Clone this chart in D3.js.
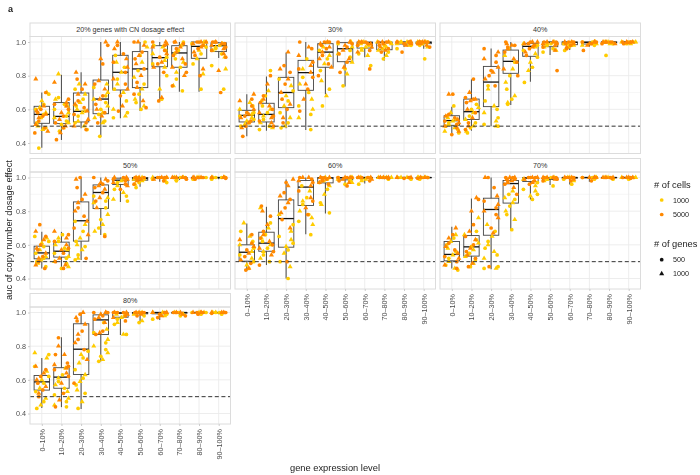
<!DOCTYPE html>
<html>
<head>
<meta charset="utf-8">
<script src="https://cdn.jsdelivr.net/npm/d3@7"></script>
<style>
html, body { margin: 0; padding: 0; background: #fff; }
svg { display: block; filter: blur(0.35px); font-family: "Liberation Sans", Arial, sans-serif; }
</style>
</head>
<body>
<svg id="chart" width="700" height="475"></svg>
<script>
var categories = ["0–10%", "10–20%", "20–30%", "30–40%", "40–50%", "50–60%", "60–70%", "70–80%", "80–90%", "90–100%"];
var panelTitles = ["20% genes with CN dosage effect", "30%", "40%", "50%", "60%", "70%", "80%"];
var yTicks = [0.4, 0.6, 0.8, 1.0];
var yMinor = [0.5, 0.7, 0.9];

// lower whisker, q1, median, q3, upper whisker
var boxes20 = [[.372,.517,.57,.618,.70],[.418,.515,.558,.64,.805],[.487,.525,.588,.697,.82],[.438,.574,.661,.774,1],[.547,.715,.82,.921,1],[.59,.729,.84,.943,1],[.655,.853,.907,.978,1],[.705,.85,.935,.978,1],[.705,.903,.974,1,1],[.905,.943,.978,.995,1]];
var boxes30 = [[.44,.525,.564,.594,.69],[.473,.525,.57,.636,.795],[.487,.61,.70,.79,.937],[.477,.713,.818,.891,1],[.69,.85,.94,.99,1],[.735,.883,.96,.996,1],[.91,.964,.996,1,1],[.89,.954,.997,1,1],[.97,.988,.998,1,1],[.96,.99,.998,1,1]];
var boxes40 = [[.457,.505,.533,.562,.615],[.473,.54,.586,.661,.778],[.50,.616,.762,.855,.962],[.626,.814,.885,.952,1],[.764,.915,.974,.992,1],[.923,.972,.998,1,1],[.953,.984,.998,1,1],[.972,.988,.998,1,1],[.988,.995,.999,1,1],[.992,.996,.999,1,1]];
var boxes50 = [[.46,.517,.552,.592,.677],[.46,.527,.562,.616,.677],[.51,.622,.743,.855,1],[.658,.816,.911,.956,1],[.855,.958,.984,.996,1],[.945,.984,.994,1,1],[.975,.996,1,1,1],[.985,.997,1,1,1],[.99,.998,1,1,1],[.99,.998,1,1,1]];
var boxes60 = [[.445,.503,.556,.60,.727],[.48,.562,.61,.675,.826],[.40,.586,.756,.867,.988],[.663,.834,.943,.982,1],[.786,.968,.996,1,1],[.948,.986,.998,1,1],[.964,.994,1,1,1],[.99,.998,1,1,1],[.992,.998,1,1,1],[.992,.998,1,1,1]];
var boxes70 = [[.46,.505,.543,.62,.707],[.47,.533,.588,.655,.875],[.455,.657,.81,.877,1],[.687,.848,.964,.982,1],[.87,.976,.996,1,1],[.955,.988,.998,1,1],[.958,.996,1,1,1],[.975,.998,1,1,1],[.992,.998,1,1,1],[.992,.998,1,1,1]];
var boxes80 = [[.432,.539,.588,.626,.73],[.438,.55,.616,.672,.853],[.426,.632,.782,.933,1],[.709,.869,.956,.986,1],[.867,.972,.996,1,1],[.937,.992,.998,1,1],[.956,.992,1,1,1],[.98,.996,1,1,1],[.99,.998,1,1,1],[.99,.998,1,1,1]];

// auc values per expression bin, one list per bin
var yellow20 = [
  [.37,.48,.49,.50,.52,.55,.57,.58,.60,.61,.63,.65,.69,.70],
  [.47,.49,.51,.52,.53,.55,.56,.58,.60,.62,.63,.66,.67,.81],
  [.48,.50,.52,.53,.56,.58,.59,.60,.62,.64,.66,.69,.72,.75],
  [.44,.52,.53,.55,.57,.58,.60,.62,.64,.66,.68,.70,.73,.75],
  [.55,.56,.58,.60,.65,.70,.72,.75,.78,.82,.85,.88,.92],
  [.60,.62,.64,.66,.69,.72,.75,.79,.83,.88,.92,.97,1],
  [.66,.72,.80,.85,.87,.89,.91,.93,.95,.97,.98],
  [.71,.74,.78,.82,.85,.88,.90,.93,.95,.98,1],
  [.72,.81,.87,.90,.93,.95,.97,.98,.99,1,1],
  [.72,.84,.86,.91,.93,.95,.96,.97,.98,.99,1]
];
var orange20 = [
  [.46,.47,.49,.51,.53,.55,.56,.57,.58,.59,.60,.62,.70,.78],
  [.42,.46,.49,.50,.52,.54,.56,.58,.60,.62,.63,.64,.66,.76],
  [.48,.50,.52,.54,.57,.59,.61,.63,.65,.69,.72,.75,.78,.82],
  [.52,.56,.58,.60,.63,.66,.68,.72,.75,.77,.87,.90,.98,1],
  [.59,.62,.68,.72,.75,.78,.82,.85,.88,.90,.93,.96,.98,1],
  [.61,.65,.69,.73,.76,.80,.84,.87,.90,.92,.94,.98,1,1],
  [.65,.67,.82,.85,.87,.88,.91,.93,.95,.97,.98,.99,1,1],
  [.74,.80,.82,.85,.87,.90,.92,.94,.96,.97,.99,1,1],
  [.80,.84,.92,.94,.96,.97,.98,.99,1,1,1,1],
  [.70,.83,.91,.93,.95,.96,.97,.98,.99,.99,1,1,1]
];
var yellow30 = [
  [.50,.51,.52,.53,.54,.55,.56,.57,.58,.60,.62,.64],
  [.48,.49,.50,.52,.54,.56,.58,.60,.62,.65,.68,.71,.83],
  [.49,.50,.52,.55,.58,.62,.65,.68,.71,.74,.78],
  [.48,.55,.57,.60,.62,.66,.70,.75,.79,.84,.90],
  [.62,.68,.72,.77,.83,.87,.90,.92,.95,.97,1],
  [.74,.81,.84,.88,.91,.93,.95,.97,.99,1],
  [.86,.92,.93,.95,.96,.97,.98,.99,1,1],
  [.90,.92,.94,.95,.96,.97,.98,.99,1,1],
  [.96,.98,.98,.99,.99,1,1,1,1],
  [.90,.97,.98,.99,.99,1,1,1,1]
];
var orange30 = [
  [.44,.49,.50,.52,.53,.55,.56,.57,.58,.60,.62,.65,.66,.69],
  [.50,.52,.53,.55,.56,.58,.60,.62,.64,.66,.68,.75,.80],
  [.52,.55,.60,.63,.66,.70,.75,.78,.82,.84,.86,.94],
  [.59,.66,.72,.75,.79,.82,.84,.86,.88,.92,.96,.97,1],
  [.80,.85,.87,.90,.92,.94,.96,.97,.98,.99,1,1,1],
  [.82,.85,.88,.90,.93,.95,.97,.98,.99,1,1,1],
  [.84,.94,.95,.97,.98,.99,.99,1,1,1,1],
  [.94,.95,.96,.97,.98,.99,1,1,1,1],
  [.94,.98,.99,.99,1,1,1,1,1,1],
  [.97,.98,.99,.99,1,1,1,1,1,1]
];
var yellow40 = [
  [.46,.47,.48,.49,.50,.51,.52,.53,.54,.55,.56,.58,.62],
  [.46,.47,.49,.50,.52,.54,.56,.58,.60,.61,.63],
  [.50,.50,.51,.53,.55,.58,.60,.62,.65,.72,.74],
  [.63,.64,.66,.68,.72,.76,.80,.84,.88,.92,.96],
  [.76,.83,.85,.88,.91,.93,.95,.97,.98,.99],
  [.94,.95,.96,.97,.98,.99,.99,1],
  [.95,.97,.98,.98,.99,.99,1],
  [.98,.98,.99,.99,1,1,1],
  [.92,.99,.99,1,1,1],
  [.99,.99,1,1,1,1]
];
var orange40 = [
  [.45,.47,.49,.50,.51,.52,.53,.54,.55,.56,.57,.69,.69],
  [.48,.50,.52,.55,.58,.60,.64,.65,.66,.66,.67,.70,.78],
  [.74,.78,.80,.82,.83,.85,.88,.90,.92,.94,.96],
  [.80,.84,.88,.90,.94,.96,.97,.98,.98,.99,1],
  [.92,.94,.96,.97,.98,.99,.99,1,1,1],
  [.83,.95,.97,.98,.99,.99,1,1,1,1],
  [.96,.97,.98,.99,.99,1,1,1,1],
  [.95,.98,.99,.99,1,1,1,1],
  [.99,.99,1,1,1,1,1],
  [.99,.995,1,1,1,1,1]
];
var yellow50 = [
  [.47,.49,.50,.51,.52,.53,.55,.57,.59,.61,.62,.64,.65],
  [.46,.47,.49,.50,.52,.53,.55,.57,.58,.60,.62,.64,.66],
  [.51,.52,.54,.57,.59,.60,.62,.64,.68,.72,.74],
  [.66,.68,.70,.72,.75,.78,.82,.85,.86,.88,.89],
  [.86,.87,.89,.91,.93,.95,.97,.98,.99],
  [.94,.96,.97,.98,.99,.99,1,1],
  [.97,.98,.99,.99,1,1,1],
  [.98,.99,1,1,1,1],
  [.99,1,1,1,1],
  [.99,1,1,1,1]
];
var orange50 = [
  [.46,.48,.50,.52,.53,.55,.57,.58,.60,.63,.65,.68,.72],
  [.46,.48,.50,.52,.55,.57,.58,.60,.62,.64,.66,.68],
  [.52,.66,.70,.74,.77,.80,.82,.85,.87,.90,.94,.99,1],
  [.65,.82,.86,.88,.91,.93,.94,.95,.96,.97,.98,.99,1],
  [.93,.95,.96,.97,.98,.99,.99,1,1,1],
  [.96,.98,.99,.99,1,1,1,1],
  [.98,.99,1,1,1,1,1],
  [.99,1,1,1,1,1],
  [.99,1,1,1,1,1],
  [.995,1,1,1,1,1]
];
var yellow60 = [
  [.46,.48,.50,.52,.54,.56,.58,.60,.62,.65,.68,.73],
  [.50,.52,.54,.56,.58,.60,.62,.64,.66,.70,.73,.82],
  [.40,.47,.50,.55,.57,.59,.61,.63,.65,.68,.72,.78],
  [.66,.72,.74,.76,.78,.80,.84,.86,.88,.92,.95],
  [.79,.84,.85,.90,.93,.95,.97,.98,.99,1],
  [.96,.97,.98,.99,.99,1,1,1],
  [.96,.98,.99,.99,1,1,1],
  [.99,1,1,1,1,1],
  [.99,1,1,1,1,1],
  [.99,1,1,1,1,1]
];
var orange60 = [
  [.45,.46,.49,.51,.53,.55,.57,.59,.61,.63,.66],
  [.48,.54,.56,.58,.60,.62,.64,.66,.68,.72,.77,.80,.83],
  [.50,.70,.75,.79,.82,.85,.87,.89,.91,.95,.97,.99],
  [.78,.82,.86,.88,.92,.95,.97,.98,.99,1,1,1],
  [.96,.97,.98,.99,.99,1,1,1,1],
  [.95,.97,.98,.99,1,1,1,1,1],
  [.98,.99,1,1,1,1,1],
  [.995,1,1,1,1,1],
  [.995,1,1,1,1],
  [.995,1,1,1,1]
];
var yellow70 = [
  [.45,.46,.48,.50,.52,.54,.56,.58,.60,.62,.64,.66],
  [.47,.49,.51,.53,.55,.57,.59,.61,.63,.66,.68,.76],
  [.46,.46,.47,.52,.54,.56,.58,.60,.62,.65,.68,.72],
  [.69,.75,.78,.80,.83,.85,.87,.88,.90,.92],
  [.87,.89,.90,.92,.93,.95,.97,.99],
  [.95,.98,.99,.99,1,1,1],
  [.96,.98,.99,1,1,1],
  [.99,1,1,1,1],
  [.99,1,1,1,1],
  [.99,1,1,1,1]
];
var orange70 = [
  [.46,.48,.50,.52,.53,.55,.57,.59,.61,.64,.66,.70],
  [.47,.49,.52,.54,.56,.58,.60,.63,.65,.68,.72,.80,.87,.88],
  [.47,.67,.70,.76,.78,.80,.82,.84,.86,.89,.94,1,1],
  [.90,.94,.96,.97,.98,.98,.99,.99,1,1,1,1],
  [.96,.97,.98,.99,1,1,1,1,1],
  [.98,.99,.99,1,1,1,1,1],
  [.98,.99,1,1,1,1,1],
  [.98,1,1,1,1,1],
  [.995,1,1,1,1,1],
  [.995,1,1,1,1,1]
];
var yellow80 = [
  [.43,.45,.47,.49,.53,.55,.58,.60,.62,.65,.68,.73,.75,.76],
  [.44,.45,.47,.49,.51,.53,.55,.57,.59,.61,.63,.67],
  [.43,.47,.52,.54,.57,.59,.61,.63,.66,.70,.73,.75,.77],
  [.71,.72,.74,.76,.78,.80,.82,.84,.88,.90,.94],
  [.87,.87,.93,.94,.96,.97,.98,.99,1],
  [.94,.95,.98,.99,1,1,1],
  [.96,.98,.99,1,1,1],
  [.98,.99,1,1,1],
  [.99,1,1,1,1],
  [.99,1,1,1,1]
];
var orange80 = [
  [.50,.52,.54,.56,.58,.60,.62,.64,.66,.68],
  [.44,.48,.52,.58,.62,.64,.66,.67,.68,.69,.70,.75,.75,.80,.85],
  [.58,.72,.78,.82,.84,.87,.89,.93,.95,.97,.99,1],
  [.87,.88,.89,.94,.96,.97,.98,.99,1,1,1,1],
  [.95,.97,.98,.99,1,1,1,1,1],
  [.98,.99,1,1,1,1,1],
  [.97,.98,.99,1,1,1,1],
  [.98,.99,1,1,1,1],
  [.99,1,1,1,1,1],
  [.995,1,1,1,1,1]
];

var panelBoxes = [boxes20, boxes30, boxes40, boxes50, boxes60, boxes70, boxes80];
var panelYellow = [yellow20, yellow30, yellow40, yellow50, yellow60, yellow70, yellow80];
var panelOrange = [orange20, orange30, orange40, orange50, orange60, orange70, orange80];

// horizontal spread of the points, in px, cycled through per bin
var jitterPx = [-3, 5, -6, 1, 7, -2, 4, -7, 2, -4, 6, 0, -5, 3, 7, -1, -6, 5, 2, -3, -7, 4];

var cellColors = { 1000: "#ffcc00", 5000: "#ff8800" };

var svg = d3.select("#chart");
var panelWidth = 200.5;
var columnX = [30, 235, 440];
var rowY = [36.5, 172, 307];
var panelHeight = 117;
var stripHeight = 13.5;

var xScale = d3.scalePoint().domain(categories).range([11.8, panelWidth - 11.8]);
var yScale = d3.scaleLinear().domain([0.4, 1]).range([106.5, 5.5]);

var triangle = d3.symbol().type(d3.symbolTriangle).size(11)();
var circle = d3.symbol().type(d3.symbolCircle).size(11)();

function drawPoints(group, lists, cells, salt) {
    lists.forEach(function (values, c) {
        values.forEach(function (v, i) {
            var isTriangle = i % 2 === 1;
            var dx = jitterPx[(i * 3 + c * 5 + salt) % jitterPx.length];
            group.append("path")
                .attr("d", isTriangle ? triangle : circle)
                .attr("fill", cellColors[cells])
                .attr("transform", "translate(" + (xScale(categories[c]) + dx) + "," + yScale(v) + ")");
        });
    });
}

panelTitles.forEach(function (title, p) {
    var col = p % 3;
    var row = Math.floor(p / 3);
    var g = svg.append("g")
        .attr("transform", "translate(" + columnX[col] + "," + rowY[row] + ")");

    g.append("rect")
        .attr("y", -stripHeight)
        .attr("width", panelWidth)
        .attr("height", stripHeight)
        .attr("fill", "#fff")
        .attr("stroke", "#dcdcdc");
    g.append("text")
        .attr("x", panelWidth / 2)
        .attr("y", -4.3)
        .attr("text-anchor", "middle")
        .attr("font-size", 7.2)
        .attr("fill", "#333")
        .text(title);

    g.append("g").selectAll("line").data(yMinor).enter().append("line")
        .attr("x2", panelWidth)
        .attr("y1", yScale).attr("y2", yScale)
        .attr("stroke", "#f2f2f2").attr("stroke-width", 0.6);
    g.append("g").selectAll("line").data(yTicks).enter().append("line")
        .attr("x2", panelWidth)
        .attr("y1", yScale).attr("y2", yScale)
        .attr("stroke", "#ebebeb").attr("stroke-width", 0.9);
    g.append("g").selectAll("line").data(categories).enter().append("line")
        .attr("x1", xScale).attr("x2", xScale)
        .attr("y2", panelHeight)
        .attr("stroke", "#ebebeb").attr("stroke-width", 0.9);

    // boxes
    var boxWidth = 15.4;
    panelBoxes[p].forEach(function (b, c) {
        var cx = xScale(categories[c]);
        var box = g.append("g");
        box.append("line").attr("x1", cx).attr("x2", cx).attr("y1", yScale(b[0])).attr("y2", yScale(b[1]))
            .attr("stroke", "#555").attr("stroke-width", 1.1);
        box.append("line").attr("x1", cx).attr("x2", cx).attr("y1", yScale(b[3])).attr("y2", yScale(b[4]))
            .attr("stroke", "#555").attr("stroke-width", 1.1);
        box.append("rect")
            .attr("x", cx - boxWidth / 2).attr("width", boxWidth)
            .attr("y", yScale(b[3])).attr("height", yScale(b[1]) - yScale(b[3]))
            .attr("fill", "none").attr("stroke", "#444").attr("stroke-width", 0.9);
        box.append("line").attr("x1", cx - boxWidth / 2).attr("x2", cx + boxWidth / 2)
            .attr("y1", yScale(b[2])).attr("y2", yScale(b[2]))
            .attr("stroke", "#111").attr("stroke-width", 1.3);
    });

    var points = g.append("g");
    drawPoints(points, panelYellow[p], 1000, p * 2);
    drawPoints(points, panelOrange[p], 5000, p * 2 + 7);

    g.append("line")
        .attr("x2", panelWidth)
        .attr("y1", yScale(0.5)).attr("y2", yScale(0.5))
        .attr("stroke", "#333").attr("stroke-width", 1)
        .attr("stroke-dasharray", "4,2.6");

    g.append("rect")
        .attr("width", panelWidth)
        .attr("height", panelHeight)
        .attr("fill", "none")
        .attr("stroke", "#dcdcdc");

    if (col === 0) {
        var yAxis = g.append("g").call(d3.axisLeft(yScale).tickValues(yTicks).tickFormat(d3.format(".1f")).tickSize(2).tickPadding(2));
        yAxis.select(".domain").remove();
        yAxis.selectAll("line").attr("stroke", "#ccc");
        yAxis.selectAll("text").attr("font-size", 7.2).attr("font-family", "Liberation Sans").attr("fill", "#4d4d4d");
    }
    // x labels only where no panel sits below
    if (p + 3 >= panelTitles.length) {
        var xAxis = g.append("g")
            .attr("transform", "translate(0," + panelHeight + ")")
            .call(d3.axisBottom(xScale).tickSize(2).tickPadding(3));
        xAxis.select(".domain").remove();
        xAxis.selectAll("line").attr("stroke", "#ccc");
        xAxis.selectAll("text")
            .attr("font-size", 7.2)
            .attr("font-family", "Liberation Sans")
            .attr("fill", "#4d4d4d")
            .attr("text-anchor", "end")
            .attr("dy", "0.32em")
            .attr("y", 0)
            .attr("transform", "translate(0,5) rotate(-90)");
    }
});

svg.append("text").attr("x", 8).attr("y", 12)
    .attr("font-size", 9).attr("font-weight", "bold").attr("fill", "#222").text("a");
svg.append("text")
    .attr("transform", "translate(11.5,230) rotate(-90)")
    .attr("text-anchor", "middle")
    .attr("font-size", 9.3).attr("fill", "#222")
    .text("auc of copy number dosage effect");
svg.append("text")
    .attr("x", 335).attr("y", 471)
    .attr("text-anchor", "middle")
    .attr("font-size", 9.3).attr("fill", "#222")
    .text("gene expression level");

// legends
var legendTitleX = 654;
var legendMarkX = 661.7;
var legendLabelX = 673;
var cellLevels = [1000, 5000];
var geneLevels = [500, 1000];
var legendCellY = d3.scalePoint().domain(cellLevels).range([200, 214.5]);
var legendGeneY = d3.scalePoint().domain(geneLevels).range([259.7, 273.7]);

svg.append("text").attr("x", legendTitleX).attr("y", 188)
    .attr("font-size", 9.3).attr("fill", "#222").text("# of cells");
svg.append("text").attr("x", legendTitleX).attr("y", 247)
    .attr("font-size", 9.3).attr("fill", "#222").text("# of genes");

cellLevels.forEach(function (level) {
    svg.append("path").attr("d", circle).attr("fill", cellColors[level])
        .attr("transform", "translate(" + legendMarkX + "," + legendCellY(level) + ")");
    svg.append("text").attr("x", legendLabelX).attr("y", legendCellY(level) + 2.6)
        .attr("font-size", 7.2).attr("fill", "#222").text(level);
});
geneLevels.forEach(function (level, i) {
    svg.append("path").attr("d", i === 0 ? circle : triangle).attr("fill", "#111")
        .attr("transform", "translate(" + legendMarkX + "," + legendGeneY(level) + ")");
    svg.append("text").attr("x", legendLabelX).attr("y", legendGeneY(level) + 2.6)
        .attr("font-size", 7.2).attr("fill", "#222").text(level);
});
</script>
</body>
</html>
